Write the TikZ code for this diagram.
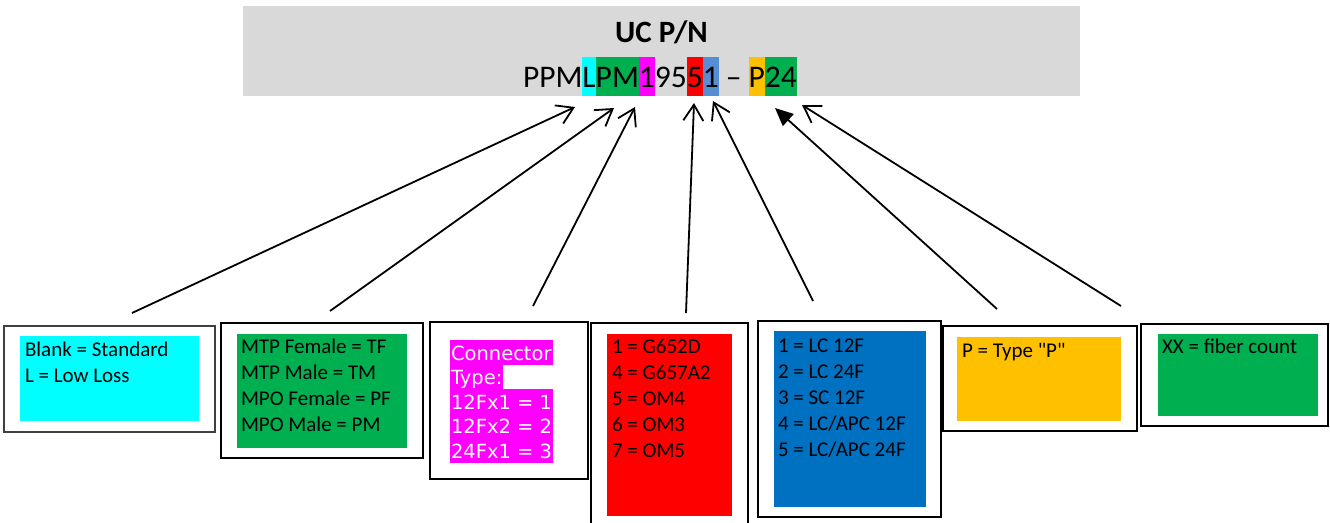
\documentclass[tikz,border=0pt]{standalone}
\usepackage{fontspec}
\setmainfont{Carlito}
\newfontfamily\verdfont{DejaVu Sans}
\usetikzlibrary{arrows.meta}
\definecolor{bannergray}{RGB}{217,217,217}
\definecolor{hlcyan}{RGB}{0,255,255}
\definecolor{hlgreen}{RGB}{0,176,80}
\definecolor{hlmag}{RGB}{255,0,255}
\definecolor{hlred}{RGB}{255,0,0}
\definecolor{hllblue}{RGB}{85,142,213}
\definecolor{hlblue}{RGB}{0,112,192}
\definecolor{hlorange}{RGB}{255,192,0}
\begin{document}
\begin{tikzpicture}[x=1pt,y=-1pt,
  every node/.style={inner sep=0pt, outer sep=0pt},
  obox/.style={draw=black, line width=1.5pt, anchor=north west},
  ibox/.style={anchor=north west, draw=none},
  ln/.style={anchor=base west, font=\fontsize{21}{25}\selectfont, text=black},
  seg/.style={anchor=base west, text height=30pt, text depth=9pt, font=\fontsize{31.5}{38}\selectfont},
  mg/.style={anchor=base west, fill=hlmag, text=white, text height=20pt, text depth=4.5pt, inner xsep=1pt, font=\verdfont\fontsize{19.5}{24}\selectfont},
  conn/.style={line width=1.8pt, -{Straight Barb[length=16pt,width=20pt,line width=1.8pt]}},
  connf/.style={line width=1.8pt, -{Triangle[length=18pt,width=16pt]}}
]
\useasboundingbox (0,0) rectangle (1330,522);

% banner
\node[ibox, fill=bannergray, minimum width=837pt, minimum height=90pt] (banner) at (243,6) {};
\node[anchor=base, font=\bfseries\fontsize{31}{37}\selectfont] (title) at (661.5,42) {UC P/N};
\node[seg] (s1) at (523,87) {PPM};
\node[seg, fill=hlcyan] (s2) at (s1.base east) {L};
\node[seg, fill=hlgreen] (s3) at (s2.base east) {PM};
\node[seg, fill=hlmag] (s4) at (s3.base east) {1};
\node[seg] (s5) at (s4.base east) {95};
\node[seg, fill=hlred] (s6) at (s5.base east) {5};
\node[seg, fill=hllblue] (s7) at (s6.base east) {1};
\node[seg] (s8) at (s7.base east) {\hspace*{0.226em}–\hspace*{0.226em}\null};
\node[seg, fill=hlorange] (s9) at (s8.base east) {P};
\node[seg, fill=hlgreen] (s10) at (s9.base east) {24};

% box 1
\node[obox, draw=black!75, minimum width=211pt, minimum height=106pt] (o1) at (4,326) {};
\node[ibox, fill=hlcyan, minimum width=179pt, minimum height=85pt] (i1) at (20,336) {};
\node[ln] (t1a) at (25,356) {Blank = Standard};
\node[ln] (t1b) at (25,382) {L = Low Loss};

% box 2
\node[obox, minimum width=202pt, minimum height=135pt] (o2) at (221,323) {};
\node[ibox, fill=hlgreen, minimum width=170pt, minimum height=114pt] (i2) at (237,334) {};
\node[ln] (t2a) at (241,353) {MTP Female = TF};
\node[ln] (t2b) at (241,379) {MTP Male = TM};
\node[ln] (t2c) at (241,405) {MPO Female = PF};
\node[ln] (t2d) at (241,431) {MPO Male = PM};

% box 3
\node[obox, line width=2.5pt, minimum width=158pt, minimum height=157pt] (o3) at (430,322) {};
\node[mg] (t3a) at (450,360) {Connector};
\node[mg] (t3b) at (450,384.5) {Type:};
\node[mg] (t3c) at (450,409) {12Fx1 = 1};
\node[mg] (t3d) at (450,433.5) {12Fx2 = 2};
\node[mg] (t3e) at (450,458) {24Fx1 = 3};

% box 4
\node[obox, minimum width=157pt, minimum height=210pt] (o4) at (591,323) {};
\node[ibox, fill=hlred, minimum width=125pt, minimum height=182pt] (i4) at (607,334) {};
\node[ln] (t4a) at (612,353) {1 = G652D};
\node[ln] (t4b) at (612,379) {4 = G657A2};
\node[ln] (t4c) at (612,405) {5 = OM4};
\node[ln] (t4d) at (612,431) {6 = OM3};
\node[ln] (t4e) at (612,457) {7 = OM5};

% box 5
\node[obox, minimum width=183pt, minimum height=196pt] (o5) at (758,321) {};
\node[ibox, fill=hlblue, minimum width=152pt, minimum height=176pt] (i5) at (774,331) {};
\node[ln] (t5a) at (778,352) {1 = LC 12F};
\node[ln] (t5b) at (778,378) {2 = LC 24F};
\node[ln] (t5c) at (778,404) {3 = SC 12F};
\node[ln] (t5d) at (778,430) {4 = LC/APC 12F};
\node[ln] (t5e) at (778,456) {5 = LC/APC 24F};

% box 6
\node[obox, minimum width=194pt, minimum height=105pt] (o6) at (943,326) {};
\node[ibox, fill=hlorange, minimum width=164pt, minimum height=84pt] (i6) at (957,337) {};
\node[ln] (t6a) at (962,357) {P = Type \textquotedbl P\textquotedbl};

% box 7
\node[obox, minimum width=187pt, minimum height=102pt] (o7) at (1141,324) {};
\node[ibox, fill=hlgreen, minimum width=160pt, minimum height=82pt] (i7) at (1158,334) {};
\node[ln] (t7a) at (1162,353) {XX = fiber count};

% connectors
\coordinate (a1s) at (132,313); \coordinate (a1e) at (575,107);
\coordinate (a2s) at (330,311); \coordinate (a2e) at (614,108);
\coordinate (a3s) at (533,306); \coordinate (a3e) at (635,107);
\coordinate (a4s) at (686,313); \coordinate (a4e) at (694,103);
\coordinate (a5s) at (813,301); \coordinate (a5e) at (713,101);
\coordinate (a6s) at (997,309); \coordinate (a6e) at (775,108);
\coordinate (a7s) at (1121,306); \coordinate (a7e) at (802,105);
\draw[conn] (a1s) -- (a1e);
\draw[conn] (a2s) -- (a2e);
\draw[conn] (a3s) -- (a3e);
\draw[conn] (a4s) -- (a4e);
\draw[conn] (a5s) -- (a5e);
\draw[connf] (a6s) -- (a6e);
\draw[conn] (a7s) -- (a7e);
\end{tikzpicture}
\end{document}
